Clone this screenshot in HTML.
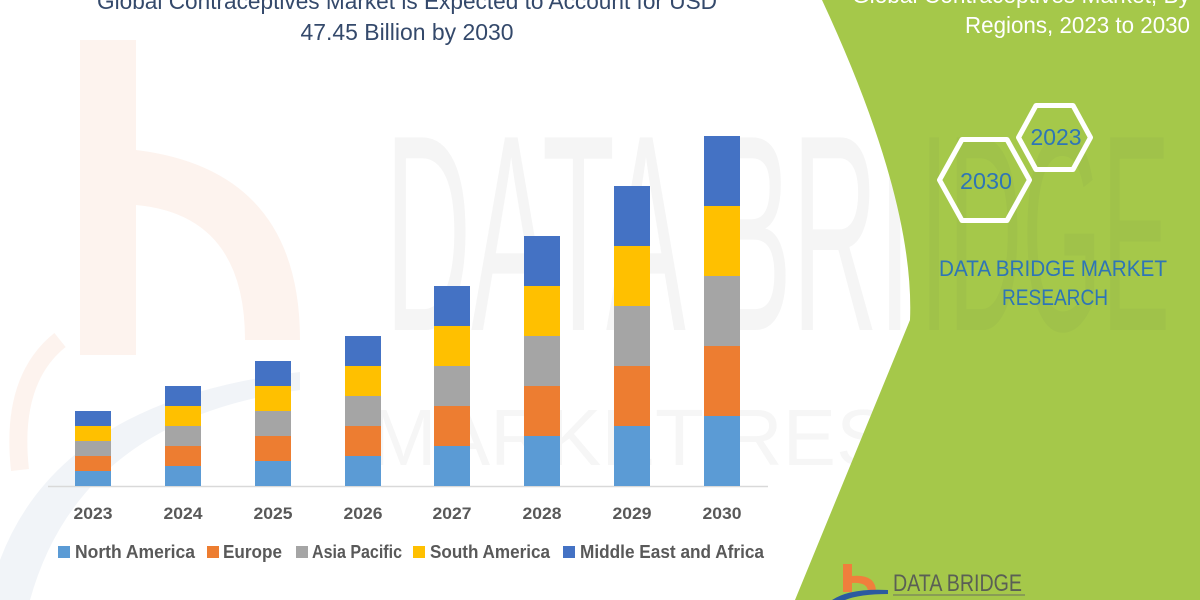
<!DOCTYPE html>
<html>
<head>
<meta charset="utf-8">
<style>
  html,body{margin:0;padding:0;background:#fff;}
  body{width:1200px;height:600px;overflow:hidden;}
  svg{display:block;}
  text{font-family:"Liberation Sans",sans-serif;}
</style>
</head>
<body>
<svg width="1200" height="600" viewBox="0 0 1200 600" xmlns="http://www.w3.org/2000/svg">
  <rect x="0" y="0" width="1200" height="600" fill="#ffffff"/>

  <!-- faint watermark logo on left -->
  <rect x="80" y="40" width="56" height="315" fill="#fdf3ee"/>
  <path d="M136,150 Q300,170 300,340 L245,340 Q245,215 136,205 Z" fill="#fdf3ee"/>
  <path d="M0,560 Q60,400 300,372 L300,390 Q80,420 30,600 L0,600 Z" fill="#f1f4f8"/>
  <path d="M20,470 Q10,380 60,340" stroke="#fdf3ee" stroke-width="18" fill="none"/>

  <!-- faint watermark text -->
  <text x="385" y="330" font-size="280" fill="#f5f5f5" textLength="785" lengthAdjust="spacingAndGlyphs">DATA BRIDGE</text>
  <text x="370" y="465" font-size="80" fill="#f6f6f6" textLength="800" lengthAdjust="spacing">MARKET RESEARCH</text>

  <!-- green panel -->
  <path d="M822,0 Q915,200 910,320 L795,600 L1200,600 L1200,0 Z" fill="#a5c84a"/>
  <text x="920" y="330" font-size="280" fill="#a0c24a" textLength="250" lengthAdjust="spacingAndGlyphs">IDGE</text>

  <!-- left title -->
  <text x="407" y="9" font-size="23" fill="#34496b" text-anchor="middle" textLength="620" lengthAdjust="spacingAndGlyphs">Global Contraceptives Market is Expected to Account for USD</text>
  <text x="407" y="40" font-size="23" fill="#34496b" text-anchor="middle" textLength="213" lengthAdjust="spacingAndGlyphs">47.45 Billion by 2030</text>

  <!-- right title -->
  <text x="1190" y="3" font-size="23" fill="#ffffff" text-anchor="end" textLength="338" lengthAdjust="spacingAndGlyphs">Global Contraceptives Market, By</text>
  <text x="1190" y="33" font-size="23" fill="#ffffff" text-anchor="end" textLength="225" lengthAdjust="spacingAndGlyphs">Regions, 2023 to 2030</text>

  <!-- hexagons -->
  <polygon points="939.5,180 962,139.5 1007,139.5 1029.5,180 1007,220.5 962,220.5" fill="none" stroke="#ffffff" stroke-width="5" stroke-linejoin="round"/>
  <polygon points="1018.5,137.5 1036,105.5 1073,105.5 1090.5,137.5 1073,169.5 1036,169.5" fill="none" stroke="#ffffff" stroke-width="5" stroke-linejoin="round"/>
  <text x="986" y="189" font-size="23" fill="#2e75b6" text-anchor="middle" textLength="52" lengthAdjust="spacingAndGlyphs">2030</text>
  <text x="1056" y="145" font-size="23" fill="#2e75b6" text-anchor="middle" textLength="51" lengthAdjust="spacingAndGlyphs">2023</text>

  <text x="1053" y="276" font-size="22" fill="#2e75b6" text-anchor="middle" textLength="228" lengthAdjust="spacingAndGlyphs">DATA BRIDGE MARKET</text>
  <text x="1055" y="305" font-size="22" fill="#2e75b6" text-anchor="middle" textLength="106" lengthAdjust="spacingAndGlyphs">RESEARCH</text>

  <!-- axis line -->
  <line x1="48" y1="486.5" x2="768" y2="486.5" stroke="#d9d9d9" stroke-width="1.5"/>

  <!-- bars -->
  <g>
    <!-- 2023 -->
    <rect x="75" y="471" width="36" height="15" fill="#5b9bd5"/>
    <rect x="75" y="456" width="36" height="15" fill="#ed7d31"/>
    <rect x="75" y="441" width="36" height="15" fill="#a5a5a5"/>
    <rect x="75" y="426" width="36" height="15" fill="#ffc000"/>
    <rect x="75" y="411" width="36" height="15" fill="#4472c4"/>
    <!-- 2024 -->
    <rect x="165" y="466" width="36" height="20" fill="#5b9bd5"/>
    <rect x="165" y="446" width="36" height="20" fill="#ed7d31"/>
    <rect x="165" y="426" width="36" height="20" fill="#a5a5a5"/>
    <rect x="165" y="406" width="36" height="20" fill="#ffc000"/>
    <rect x="165" y="386" width="36" height="20" fill="#4472c4"/>
    <!-- 2025 -->
    <rect x="255" y="461" width="36" height="25" fill="#5b9bd5"/>
    <rect x="255" y="436" width="36" height="25" fill="#ed7d31"/>
    <rect x="255" y="411" width="36" height="25" fill="#a5a5a5"/>
    <rect x="255" y="386" width="36" height="25" fill="#ffc000"/>
    <rect x="255" y="361" width="36" height="25" fill="#4472c4"/>
    <!-- 2026 -->
    <rect x="345" y="456" width="36" height="30" fill="#5b9bd5"/>
    <rect x="345" y="426" width="36" height="30" fill="#ed7d31"/>
    <rect x="345" y="396" width="36" height="30" fill="#a5a5a5"/>
    <rect x="345" y="366" width="36" height="30" fill="#ffc000"/>
    <rect x="345" y="336" width="36" height="30" fill="#4472c4"/>
    <!-- 2027 -->
    <rect x="434" y="446" width="36" height="40" fill="#5b9bd5"/>
    <rect x="434" y="406" width="36" height="40" fill="#ed7d31"/>
    <rect x="434" y="366" width="36" height="40" fill="#a5a5a5"/>
    <rect x="434" y="326" width="36" height="40" fill="#ffc000"/>
    <rect x="434" y="286" width="36" height="40" fill="#4472c4"/>
    <!-- 2028 -->
    <rect x="524" y="436" width="36" height="50" fill="#5b9bd5"/>
    <rect x="524" y="386" width="36" height="50" fill="#ed7d31"/>
    <rect x="524" y="336" width="36" height="50" fill="#a5a5a5"/>
    <rect x="524" y="286" width="36" height="50" fill="#ffc000"/>
    <rect x="524" y="236" width="36" height="50" fill="#4472c4"/>
    <!-- 2029 -->
    <rect x="614" y="426" width="36" height="60" fill="#5b9bd5"/>
    <rect x="614" y="366" width="36" height="60" fill="#ed7d31"/>
    <rect x="614" y="306" width="36" height="60" fill="#a5a5a5"/>
    <rect x="614" y="246" width="36" height="60" fill="#ffc000"/>
    <rect x="614" y="186" width="36" height="60" fill="#4472c4"/>
    <!-- 2030 -->
    <rect x="704" y="416" width="36" height="70" fill="#5b9bd5"/>
    <rect x="704" y="346" width="36" height="70" fill="#ed7d31"/>
    <rect x="704" y="276" width="36" height="70" fill="#a5a5a5"/>
    <rect x="704" y="206" width="36" height="70" fill="#ffc000"/>
    <rect x="704" y="136" width="36" height="70" fill="#4472c4"/>
  </g>

  <!-- x labels -->
  <g font-size="17" font-weight="bold" fill="#595959" text-anchor="middle">
    <text x="93" y="519" textLength="39" lengthAdjust="spacingAndGlyphs">2023</text>
    <text x="183" y="519" textLength="39" lengthAdjust="spacingAndGlyphs">2024</text>
    <text x="273" y="519" textLength="39" lengthAdjust="spacingAndGlyphs">2025</text>
    <text x="363" y="519" textLength="39" lengthAdjust="spacingAndGlyphs">2026</text>
    <text x="452" y="519" textLength="39" lengthAdjust="spacingAndGlyphs">2027</text>
    <text x="542" y="519" textLength="39" lengthAdjust="spacingAndGlyphs">2028</text>
    <text x="632" y="519" textLength="39" lengthAdjust="spacingAndGlyphs">2029</text>
    <text x="722" y="519" textLength="39" lengthAdjust="spacingAndGlyphs">2030</text>
  </g>

  <!-- legend -->
  <g font-size="18" font-weight="bold" fill="#595959">
    <rect x="58" y="546" width="12" height="12" fill="#5b9bd5"/>
    <text x="75" y="558" textLength="120" lengthAdjust="spacingAndGlyphs">North America</text>
    <rect x="207" y="546" width="12" height="12" fill="#ed7d31"/>
    <text x="223" y="558" textLength="59" lengthAdjust="spacingAndGlyphs">Europe</text>
    <rect x="296" y="546" width="12" height="12" fill="#a5a5a5"/>
    <text x="312" y="558" textLength="90" lengthAdjust="spacingAndGlyphs">Asia Pacific</text>
    <rect x="413" y="546" width="12" height="12" fill="#ffc000"/>
    <text x="430" y="558" textLength="120" lengthAdjust="spacingAndGlyphs">South America</text>
    <rect x="563" y="546" width="12" height="12" fill="#4472c4"/>
    <text x="580" y="558" textLength="184" lengthAdjust="spacingAndGlyphs">Middle East and Africa</text>
  </g>

  <!-- bottom logo -->
  <rect x="843" y="564" width="9" height="28" fill="#f07f3c"/>
  <path d="M852,576 Q876,574 876,592 L868,592 Q868,582 852,583 Z" fill="#f07f3c"/>
  <path d="M832,600 Q850,588 888,590 L888,594 Q860,594 845,600 Z" fill="#2c5aa0"/>
  <text x="893" y="591" font-size="24" fill="#5a5f55" textLength="129" lengthAdjust="spacingAndGlyphs">DATA BRIDGE</text>
  <line x1="893" y1="595" x2="1025" y2="595" stroke="#6a7060" stroke-width="1"/>
</svg>
</body>
</html>
